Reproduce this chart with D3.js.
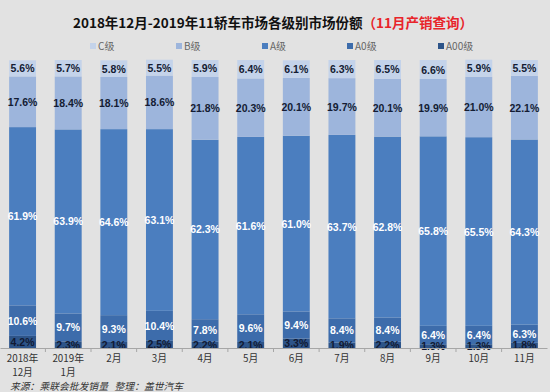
<!DOCTYPE html>
<html><head><meta charset="utf-8">
<script src="https://cdn.jsdelivr.net/npm/d3@7"></script>
<style>
html,body{margin:0;padding:0;background:#e2e2e2;}
svg{display:block;font-family:"Liberation Sans",Arial,"Noto Sans CJK SC",sans-serif;}
</style></head>
<body><svg id="c" width="550" height="392"></svg>
<script>
const categories = ["2018年|12月","2019年|1月","2月","3月","4月","5月","6月","7月","8月","9月","10月","11月"];
const seriesNames = ["A00级","A0级","A级","B级","C级"];
const A00 = [4.2,2.3,2.1,2.5,2.2,2.1,3.3,1.9,2.2,1.3,1.3,1.8];
const A0  = [10.6,9.7,9.3,10.4,7.8,9.6,9.4,8.4,8.4,6.4,6.4,6.3];
const A   = [61.9,63.9,64.6,63.1,62.3,61.6,61.0,63.7,62.8,65.8,65.5,64.3];
const B   = [17.6,18.4,18.1,18.6,21.8,20.3,20.1,19.7,20.1,19.9,21.0,22.1];
const C   = [5.6,5.7,5.8,5.5,5.9,6.4,6.1,6.3,6.5,6.6,5.9,5.5];
const colors = {"A00级":"#2d5489","A0级":"#3d6cab","A级":"#4b7ebf","B级":"#9db5dc","C级":"#c4d3ea"};
const labelColors = {"A00级":"#111a33","A0级":"#ffffff","A级":"#ffffff","B级":"#141c33","C级":"#141c33"};

const rows = categories.map((c,i)=>({cat:c,"A00级":A00[i],"A0级":A0[i],"A级":A[i],"B级":B[i],"C级":C[i]}));
const stack = d3.stack().keys(seriesNames)(rows);

const svg = d3.select("#c");
const x = d3.scaleBand().domain(categories).range([0,547]).paddingInner(0.41).paddingOuter(0.2);
const y = d3.scaleLinear().domain([0,100]).range([348,60]);

// title
const t = svg.append("text").attr("x",273).attr("y",28).attr("text-anchor","middle")
  .attr("font-size",13.5).attr("font-weight","bold").attr("font-family","'Noto Sans CJK SC',sans-serif");
t.append("tspan").attr("fill","#111").text("2018年12月-2019年11轿车市场各级别市场份额");
t.append("tspan").attr("fill","#e8242a").text("（11月产销查询）");

// legend
const legendItems = ["C级","B级","A级","A0级","A00级"];
const legendX = [90,176,262,347,438];
legendItems.forEach((k,i)=>{
  const g = svg.append("g").attr("transform",`translate(${legendX[i]},46)`);
  g.append("rect").attr("x",0).attr("y",-3).attr("width",6).attr("height",6).attr("fill",colors[k]);
  g.append("text").attr("x",8).attr("y",4).attr("font-size",10).attr("fill","#666")
    .attr("font-family","'Noto Sans CJK SC',sans-serif").text(k);
});

// bars
const layers = svg.append("g").selectAll("g").data(stack).join("g").attr("fill",d=>colors[d.key]);
layers.selectAll("rect").data(d=>d).join("rect")
  .attr("x",d=>x(d.data.cat)).attr("width",x.bandwidth())
  .attr("y",d=>y(d[1])).attr("height",d=>y(d[0])-y(d[1]));

// labels
const lab = svg.append("g").attr("font-size",10.5).attr("font-weight","bold").attr("text-anchor","middle");
stack.forEach(s=>{
  lab.selectAll(null).data(s).join("text")
    .attr("x",d=>x(d.data.cat)+x.bandwidth()/2)
    .attr("y",d=>{ const m=(y(d[0])+y(d[1]))/2; return Math.min(m, 345.5)+4; })
    .attr("fill",labelColors[s.key])
    .text(d=>(d[1]-d[0]).toFixed(1)+"%");
});

// axis
const ax = d3.axisBottom(x).tickSize(0).tickFormat("");
const axG = svg.append("g").attr("transform","translate(0,348)").call(ax);
axG.select(".domain").attr("stroke","#a6a6a6");
const step = x.step();
categories.forEach((c,i)=>{
  if(i===0) return;
  const bx = x(c) - (step - x.bandwidth())/2;
  svg.append("line").attr("x1",bx).attr("x2",bx).attr("y1",348).attr("y2",352).attr("stroke","#a6a6a6");
});
const xl = svg.append("g").attr("font-size",9.8).attr("fill","#333").attr("text-anchor","middle")
  .attr("font-family","'Noto Sans CJK SC',sans-serif");
categories.forEach(c=>{
  const parts = c.split("|");
  parts.forEach((p,j)=>{
    xl.append("text").attr("x",x(c)+x.bandwidth()/2).attr("y",361.5+j*14.5).attr("fill","#333").text(p);
  });
});

// source
svg.append("text").attr("x",10).attr("y",390.3).attr("font-size",9.8).attr("font-style","italic")
  .attr("fill","#333").attr("font-family","'Noto Sans CJK SC',sans-serif")
  .text("来源：乘联会批发销量\u00a0\u00a0\u00a0整理：盖世汽车");
</script></body></html>
